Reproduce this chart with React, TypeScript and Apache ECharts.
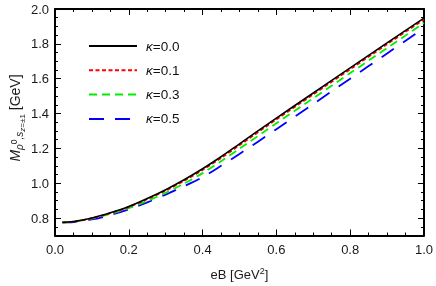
import React, { useEffect, useRef } from "react";
import * as echarts from "echarts";

const eB = [0.02, 0.05, 0.1, 0.15, 0.2, 0.25, 0.3, 0.35, 0.4, 0.45, 0.5, 0.6, 0.7, 0.8, 0.9, 1.0];
const k00 = [0.775, 0.78, 0.8, 0.83, 0.866, 0.912, 0.963, 1.02, 1.083, 1.152, 1.226, 1.374, 1.518, 1.662, 1.806, 1.948];
const k01 = [0.775, 0.78, 0.799, 0.828, 0.863, 0.908, 0.958, 1.014, 1.076, 1.145, 1.218, 1.366, 1.51, 1.654, 1.798, 1.94];
const k03 = [0.775, 0.779, 0.797, 0.824, 0.857, 0.898, 0.945, 0.998, 1.058, 1.126, 1.198, 1.344, 1.488, 1.632, 1.776, 1.92];
const k05 = [0.775, 0.777, 0.792, 0.817, 0.85, 0.89, 0.935, 0.983, 1.035, 1.1, 1.168, 1.31, 1.455, 1.6, 1.745, 1.89];
const names = ["κ=0.0", "κ=0.1", "κ=0.3", "κ=0.5"];
const yMajor = [0.8, 1.0, 1.2, 1.4, 1.6, 1.8, 2.0];

const FONT = "Liberation Sans";

export default function App() {
  const ref = useRef<HTMLDivElement>(null);
  useEffect(() => {
    const chart = echarts.init(ref.current!, null, { renderer: "svg" });
    const mk = (arr: number[]) => eB.map((x, i) => [x, arr[i]]);
    const styles = [
      { color: "#000000", type: "solid" as any, width: 1.6 },
      { color: "#ff0000", type: [4, 2.5], width: 1.8 },
      { color: "#00ee00", type: [8, 5], width: 1.8 },
      { color: "#0000ff", type: [15, 11], width: 1.8 },
    ];
    const data = [k00, k01, k03, k05];
    const frame = { show: true, lineStyle: { color: "#000", width: 2 } };
    const baseX = { type: "value", min: 0, max: 1, interval: 0.2 };
    const baseY = { type: "value", min: 0.7, max: 2.0 };
    chart.setOption({
      animation: false,
      grid: { left: 55, right: 9, top: 9, bottom: 46 },
      legend: {
        orient: "vertical",
        left: 83,
        top: 34,
        itemWidth: 48,
        itemHeight: 14,
        itemGap: 10.3,
        data: names,
        itemStyle: { opacity: 0 },
        formatter: (n: string) => `{k|κ}{n|${n.slice(1)}}`,
        textStyle: {
          fontFamily: FONT,
          fontSize: 13.5,
          color: "#111",
          padding: [0, 0, 0, 4],
          rich: {
            k: { fontFamily: FONT, fontSize: 13.5, fontStyle: "italic", color: "#111" },
            n: { fontFamily: FONT, fontSize: 13.5, color: "#111" },
          },
        },
      },
      xAxis: [
        {
          ...baseX,
          position: "bottom",
          axisLine: frame,
          axisTick: { inside: true, length: 6, lineStyle: { color: "#000", width: 1 } },
          minorTick: { show: true, splitNumber: 4, length: 3, lineStyle: { color: "#000", width: 1 } },
          axisLabel: {
            margin: 7,
            fontFamily: FONT,
            fontSize: 13,
            color: "#1a1a1a",
            formatter: (v: number) => v.toFixed(1),
          },
          splitLine: { show: false },
          name: "eB [GeV{sup|2}]",
          nameLocation: "middle",
          nameGap: 31,
          nameTextStyle: {
            fontFamily: FONT,
            fontSize: 13,
            color: "#1a1a1a",
            rich: { sup: { fontSize: 9, fontFamily: FONT, color: "#1a1a1a", padding: [0, 0, 7, 0] } },
          },
        },
        {
          ...baseX,
          position: "top",
          axisLine: frame,
          axisTick: { inside: true, length: 6, lineStyle: { color: "#000", width: 1 } },
          minorTick: { show: true, splitNumber: 4, length: 3, lineStyle: { color: "#000", width: 1 } },
          axisLabel: { show: false },
          splitLine: { show: false },
        },
      ],
      yAxis: [
        {
          ...baseY,
          position: "left",
          axisLine: frame,
          axisTick: { inside: true, length: 6, customValues: yMajor, lineStyle: { color: "#000", width: 1 } },
          axisLabel: {
            customValues: yMajor,
            margin: 6,
            fontFamily: FONT,
            fontSize: 13,
            color: "#1a1a1a",
            formatter: (v: number) => v.toFixed(1),
          },
          splitLine: { show: false },
        },
        {
          ...baseY,
          position: "left",
          interval: 0.05,
          axisLine: { show: false },
          axisTick: { inside: true, length: 3, lineStyle: { color: "#000", width: 1 } },
          axisLabel: { show: false },
          splitLine: { show: false },
        },
        {
          ...baseY,
          position: "right",
          axisLine: frame,
          axisTick: { inside: true, length: 6, customValues: yMajor, lineStyle: { color: "#000", width: 1 } },
          axisLabel: { show: false },
          splitLine: { show: false },
        },
        {
          ...baseY,
          position: "right",
          interval: 0.05,
          axisLine: { show: false },
          axisTick: { inside: true, length: 3, lineStyle: { color: "#000", width: 1 } },
          axisLabel: { show: false },
          splitLine: { show: false },
        },
      ],
      graphic: [
        {
          type: "text",
          x: 15,
          y: 118,
          rotation: Math.PI / 2,
          style: {
            text: "{m|M}{sub|ρ}{sup|0}{sub|,}{sub|s}{ss|z}{ss2|=±1}{n| [GeV]}",
            align: "center",
            verticalAlign: "middle",
            rich: {
              m: { fontSize: 14, fontStyle: "italic", fontFamily: FONT, fill: "#1a1a1a", lineHeight: 14 },
              sub: { fontSize: 10, fontStyle: "italic", fontFamily: FONT, fill: "#1a1a1a", lineHeight: 10, padding: [8, 0, 0, 0] },
              sup: { fontSize: 8.5, fontFamily: FONT, fill: "#1a1a1a", lineHeight: 9, padding: [0, 0, 3, 0] },
              ss: { fontSize: 8, fontStyle: "italic", fontFamily: FONT, fill: "#1a1a1a", lineHeight: 8, padding: [14, 0, 0, 0] },
              ss2: { fontSize: 8, fontFamily: FONT, fill: "#1a1a1a", lineHeight: 8, padding: [14, 0, 0, 0] },
              n: { fontSize: 14, fontFamily: FONT, fill: "#1a1a1a", lineHeight: 14 },
            },
          },
        },
      ],
      series: data.map((arr, i) => ({
        name: names[i],
        type: "line",
        xAxisIndex: 0,
        yAxisIndex: 0,
        smooth: 0.3,
        symbol: "none",
        data: mk(arr),
        lineStyle: styles[i],
        itemStyle: { color: styles[i].color },
        z: 10 - i,
      })),
    });
    return () => chart.dispose();
  }, []);
  return <div ref={ref} style={{ position: "fixed", left: 0, top: 0, width: 436, height: 286 }} />;
}
